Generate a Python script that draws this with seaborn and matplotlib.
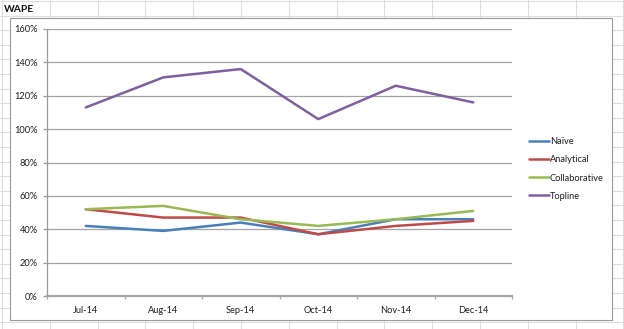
import matplotlib
matplotlib.use("Agg")
import matplotlib.pyplot as plt
import matplotlib.patches as mpatches
from matplotlib.lines import Line2D
from matplotlib.ticker import FuncFormatter, FixedLocator
import pandas as pd
import seaborn as sns

# Monthly WAPE by forecasting approach
months = ["Jul-14", "Aug-14", "Sep-14", "Oct-14", "Nov-14", "Dec-14"]
naive = [0.42, 0.39, 0.44, 0.37, 0.46, 0.46]
analytical = [0.52, 0.47, 0.47, 0.37, 0.42, 0.45]
collaborative = [0.52, 0.54, 0.46, 0.42, 0.46, 0.51]
topline = [1.13, 1.31, 1.36, 1.06, 1.26, 1.16]

series_names = ["Naïve", "Analytical", "Collaborative", "Topline"]
series_values = [naive, analytical, collaborative, topline]
colors = ["#4A7EBB", "#BE4B48", "#98B954", "#7D60A0"]
y_ticks = [0.0, 0.2, 0.4, 0.6, 0.8, 1.0, 1.2, 1.4, 1.6]

df = pd.DataFrame(
    [(m, name, v) for name, vals in zip(series_names, series_values)
     for m, v in zip(months, vals)],
    columns=["month", "series", "wape"],
)

sns.set_theme(style="white")
plt.rcParams["font.family"] = ["Lato", "DejaVu Sans"]

W, H = 624, 329
fig = plt.figure(figsize=(W / 100, H / 100), dpi=100)
fig.patch.set_facecolor("white")


def fx(px):
    return px / W


def fy(py):
    return 1 - py / H


# worksheet cell grid behind the chart
grid_c = "#dcdedf"
for k in range(14):
    x = 2 + 47.8 * k
    fig.add_artist(Line2D([fx(x), fx(x)], [0, 1], color=grid_c, lw=0.8, zorder=0))
for k in range(24):
    y = 1 + 14.6 * k
    fig.add_artist(Line2D([0, 1], [fy(y), fy(y)], color=grid_c, lw=0.8, zorder=0))

fig.text(fx(4), fy(9), "WAPE", fontsize=7.4, fontweight="bold",
         color="#111111", va="center", ha="left")

# chart area
fig.add_artist(mpatches.Rectangle((fx(11), fy(321.3)), fx(613.3) - fx(11),
                                  fy(18) - fy(321.3), transform=fig.transFigure,
                                  facecolor="#b0b0b0", edgecolor="none", zorder=1))
fig.add_artist(mpatches.Rectangle((fx(10), fy(320)), fx(612) - fx(10),
                                  fy(18) - fy(320), transform=fig.transFigure,
                                  facecolor="white", edgecolor="#9a9a9a", lw=0.8, zorder=2))

ax = fig.add_axes([fx(47), fy(296), fx(512) - fx(47), fy(29) - fy(296)])
ax.set_zorder(3)
ax.set_facecolor("none")

sns.lineplot(data=df, x="month", y="wape", hue="series", hue_order=series_names,
             palette=colors, linewidth=1.8, ax=ax, legend=False, sort=False)

ax.set_xlim(-0.5, len(months) - 0.5)
ax.set_ylim(0, 1.6)
ax.set_yticks(y_ticks)
ax.yaxis.set_major_formatter(FuncFormatter(lambda v, _: f"{v * 100:.0f}%"))
ax.set_xticks(range(len(months)))
ax.set_xticklabels(months)
ax.xaxis.set_minor_locator(FixedLocator([i - 0.5 for i in range(len(months) + 1)]))
ax.set_xlabel("")
ax.set_ylabel("")

ax.grid(axis="y", color="#a3a3a3", lw=0.9)
ax.grid(axis="x", visible=False)
ax.set_axisbelow(True)
for side in ["top", "right"]:
    ax.spines[side].set_visible(False)
ax.spines["left"].set_color("#9a9a9a")
ax.spines["left"].set_linewidth(0.9)
ax.spines["bottom"].set_color("#a8a8a8")
ax.spines["bottom"].set_linewidth(1.6)

label_kw = dict(labelsize=6.7, labelcolor="#1e1e1e")
ax.tick_params(axis="y", which="major", direction="out", length=3, width=0.9,
               color="#9a9a9a", pad=3.5, left=True, **label_kw)
ax.tick_params(axis="x", which="major", length=0, pad=7.5, **label_kw)
ax.tick_params(axis="x", which="minor", direction="out", length=2.5, width=0.9,
               color="#a8a8a8", bottom=True)

handles = [Line2D([], [], color=c, lw=1.8) for c in colors]
fig.legend(handles, series_names, loc="center left",
           bbox_to_anchor=(fx(521), fy(169)), frameon=False, fontsize=6.7,
           handlelength=2.1, handletextpad=0.1, labelspacing=0.98,
           labelcolor="#1e1e1e")

fig.savefig("out.png", dpi=100, facecolor="white")
